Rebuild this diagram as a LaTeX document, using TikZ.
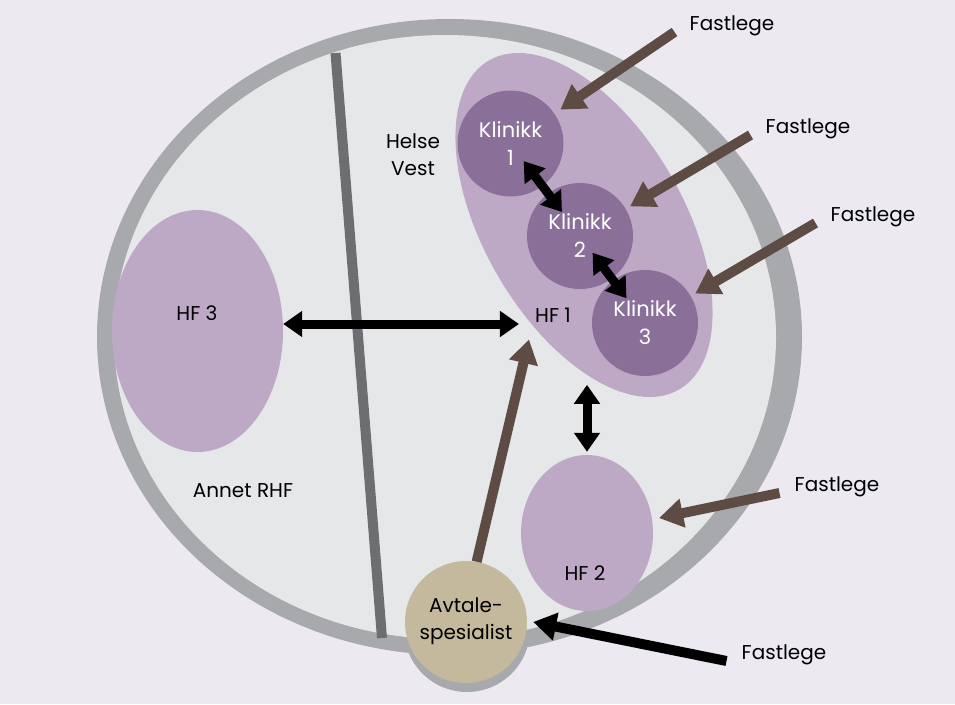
\documentclass[tikz,border=0pt]{standalone}
\usepackage{fontspec}
\setmainfont{Poppins}
\usetikzlibrary{shapes.geometric,arrows.meta,positioning}
\definecolor{bakgrunn}{HTML}{ECEAF0}
\definecolor{ringgraa}{HTML}{A7A9AC}
\definecolor{innerfyll}{HTML}{E6E7E9}
\definecolor{skille}{HTML}{6D6E71}
\definecolor{hflilla}{HTML}{BDA9C5}
\definecolor{kliniklilla}{HTML}{8A6F99}
\definecolor{avtalebeige}{HTML}{C4B89D}
\definecolor{pilbrun}{HTML}{5E4C44}

\begin{document}
\begin{tikzpicture}[x=1pt, y=-1pt, font=\fontsize{20}{27}\selectfont,
  hf/.style={ellipse, fill=hflilla, inner sep=0pt},
  klinikk/.style={circle, fill=kliniklilla, text=white, minimum size=106pt, inner sep=0pt, align=center, font=\fontsize{21}{28}\selectfont},
  tekst/.style={align=center, inner sep=0pt},
  fastpil/.style={draw=pilbrun, line width=10pt, -{Triangle[length=24pt,width=28pt]}},
  svartpil/.style={draw=black, line width=10pt, -{Triangle[length=23pt,width=27pt]}},
  dobbelpil/.style={draw=black, line width=9pt, {Triangle[length=19pt,width=25pt]}-{Triangle[length=19pt,width=25pt]}}]
   \useasboundingbox (0,0) rectangle (955,704);
   \fill[bakgrunn] (0,0) rectangle (955,704);
   % ring og bule
   \fill[ringgraa] (449.5,337) ellipse [x radius=352.5pt, y radius=318pt];
   \fill[ringgraa] (467,629) circle [radius=63pt];
   \fill[innerfyll] (445,337) ellipse [x radius=331pt, y radius=302pt];
   \draw[skille, line width=10pt] (335.5,53) -- (382,638);
   % helseforetak
   \node[hf, minimum width=171pt, minimum height=242pt] (hf3) at (197.5,331) {};
   \node[hf, rotate=-60, minimum width=380pt, minimum height=200pt] (hf1) at (584,225) {};
   \node[hf, minimum width=132pt, minimum height=156pt] (hf2) at (587,533) {};
   % klinikker
   \node[klinikk] (k1) at (510.5,143.5) {Klinikk\\1};
   \node[klinikk] (k2) at (580,236) {Klinikk\\2};
   \node[klinikk] (k3) at (645,323) {Klinikk\\3};
   \node[circle, fill=avtalebeige, minimum size=122pt, inner sep=0pt, align=center, text depth=6pt] (avtale) at (466,622) {Avtale-\\spesialist};
   % tekster
   \node[tekst] (hf3tekst) at (197,313) {HF 3};
   \node[tekst] (hf1tekst) at (553,315) {HF 1};
   \node[tekst] (hf2tekst) at (585,573) {HF 2};
   \node[tekst] (helsevest) at (413,155) {Helse\\Vest};
   \node[tekst] (annet) at (243,491) {Annet RHF};
   \node[tekst] (f1) at (732,26) {Fastlege};
   \node[tekst] (f2) at (808,129) {Fastlege};
   \node[tekst] (f3) at (873,217) {Fastlege};
   \node[tekst] (f4) at (837,487) {Fastlege};
   \node[tekst] (f5) at (784,655) {Fastlege};
   % piler
   \draw[fastpil, shorten >=7pt] ([xshift=-15pt,yshift=-6pt]f1.west) -- (k1);
   \draw[fastpil, shorten >=5pt] ([xshift=-15pt,yshift=-6pt]f2.west) -- (k2);
   \draw[fastpil, shorten >=5pt] ([xshift=-15pt,yshift=-6pt]f3.west) -- (k3);
   \draw[fastpil, shorten >=7pt] ([xshift=-15pt,yshift=-6pt]f4.west) -- (hf2);
   \draw[svartpil] ([xshift=-15pt,yshift=-6pt]f5.west) -- ([xshift=6pt]avtale.east);
   \draw[fastpil] (avtale.80) -- ([xshift=-6pt,yshift=-17pt]hf1tekst.south west);
   \coordinate (pilvenstre) at ([yshift=7pt]hf3.east);
   \draw[dobbelpil, shorten >=16pt] (pilvenstre) -- (hf1tekst.west |- pilvenstre);
   \draw[dobbelpil, shorten <=22pt, shorten >=30pt] (k1.center) -- (k2.center);
   \draw[dobbelpil, shorten <=21pt, shorten >=31pt] (k2.center) -- (k3.center);
   \draw[dobbelpil] ([yshift=3pt]hf2.north) -- ([yshift=70pt]hf2.north);
\end{tikzpicture}
\end{document}
